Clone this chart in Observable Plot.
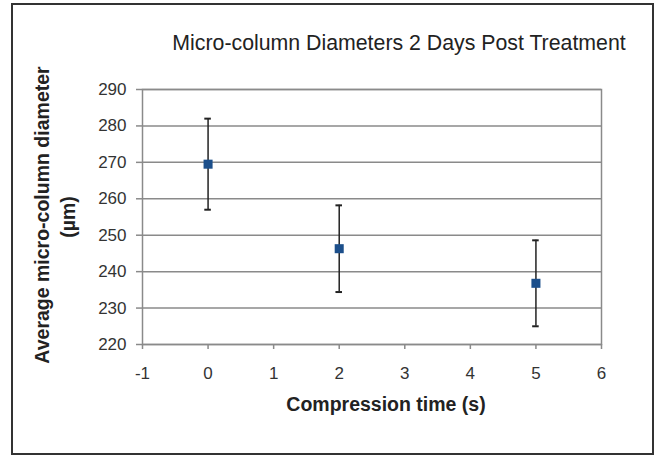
<!DOCTYPE html>
<html>
<head>
<meta charset="utf-8">
<script src="https://cdn.jsdelivr.net/npm/d3@7"></script>
<script src="https://cdn.jsdelivr.net/npm/@observablehq/plot@0.6"></script>
<style>
  html, body { margin: 0; padding: 0; background: #fff; }
  #wrap { position: relative; width: 656px; height: 455px; overflow: hidden; }
  #wrap svg { position: absolute; left: 0; top: 0; }
  #border { position: absolute; left: 11px; top: 3px; width: 639px; height: 448px; border: 2px solid #333; box-sizing: content-box; pointer-events: none; }
</style>
</head>
<body>
<div id="wrap"><div id="border"></div></div>
<script>
const title = "Micro-column Diameters 2 Days Post Treatment";
const xLabel = "Compression time (s)";
const yLabelLine1 = "Average micro-column diameter";
const yLabelLine2 = "(\u00b5m)";

const times = [0, 2, 5];
const means = [269.5, 246.3, 236.8];
const errors = [12.5, 11.9, 11.8];

const xTicks = [-1, 0, 1, 2, 3, 4, 5, 6];
const yTicks = [220, 230, 240, 250, 260, 270, 280, 290];

const data = times.map((t, i) => ({t, mean: means[i], lo: means[i] - errors[i], hi: means[i] + errors[i]}));
const capHalf = 0.05;
const font = "'Liberation Sans', Arial, sans-serif";
const gridColor = "#8a8a8a";

const chart = Plot.plot({
  width: 656,
  height: 455,
  marginLeft: 142,
  marginRight: 55,
  marginTop: 89,
  marginBottom: 111,
  style: {fontFamily: font, fontSize: "17px", color: "#333", background: "transparent"},
  x: {domain: [-1, 6], ticks: xTicks, label: null},
  y: {domain: [220, 290], ticks: yTicks, label: null},
  marks: [
    Plot.gridY(yTicks, {stroke: gridColor, strokeOpacity: 1, strokeWidth: 1.5}),
    Plot.frame({stroke: gridColor, strokeWidth: 1.5}),
    Plot.axisY(yTicks, {tickSize: 6, tickPadding: 10, stroke: gridColor, strokeWidth: 1.5, fill: "#333", fontSize: 17, tickFormat: d => String(d)}),
    Plot.axisX(xTicks, {tickSize: 5, tickPadding: 17, stroke: gridColor, strokeWidth: 1.5, fill: "#333", fontSize: 17, tickFormat: d => String(d)}),
    Plot.ruleX(data, {x: "t", y1: "lo", y2: "hi", stroke: "#222", strokeWidth: 1.5}),
    Plot.ruleY(data, {y: "hi", x1: d => d.t - capHalf, x2: d => d.t + capHalf, stroke: "#222", strokeWidth: 2}),
    Plot.ruleY(data, {y: "lo", x1: d => d.t - capHalf, x2: d => d.t + capHalf, stroke: "#222", strokeWidth: 2}),
    Plot.dot(data, {x: "t", y: "mean", symbol: "square", r: 5.1, fill: "#1c4f8b", stroke: "none"}),
    Plot.text([title], {frameAnchor: "top", textAnchor: "middle", dx: 27, dy: -55, fontSize: 21.3, fill: "#222", text: d => d}),
    Plot.text([xLabel], {frameAnchor: "bottom", textAnchor: "middle", dx: 14, dy: 66, fontSize: 19.5, fontWeight: "bold", fill: "#222", text: d => d}),
    Plot.text([yLabelLine1], {frameAnchor: "left", textAnchor: "middle", dx: -100, dy: -2, rotate: -90, fontSize: 19.5, fontWeight: "bold", fill: "#222", text: d => d}),
    Plot.text([yLabelLine2], {frameAnchor: "left", textAnchor: "middle", dx: -74, dy: 0, rotate: -90, fontSize: 19.5, fontWeight: "bold", fill: "#222", text: d => d})
  ]
});
document.getElementById("wrap").appendChild(chart);
</script>
</body>
</html>
